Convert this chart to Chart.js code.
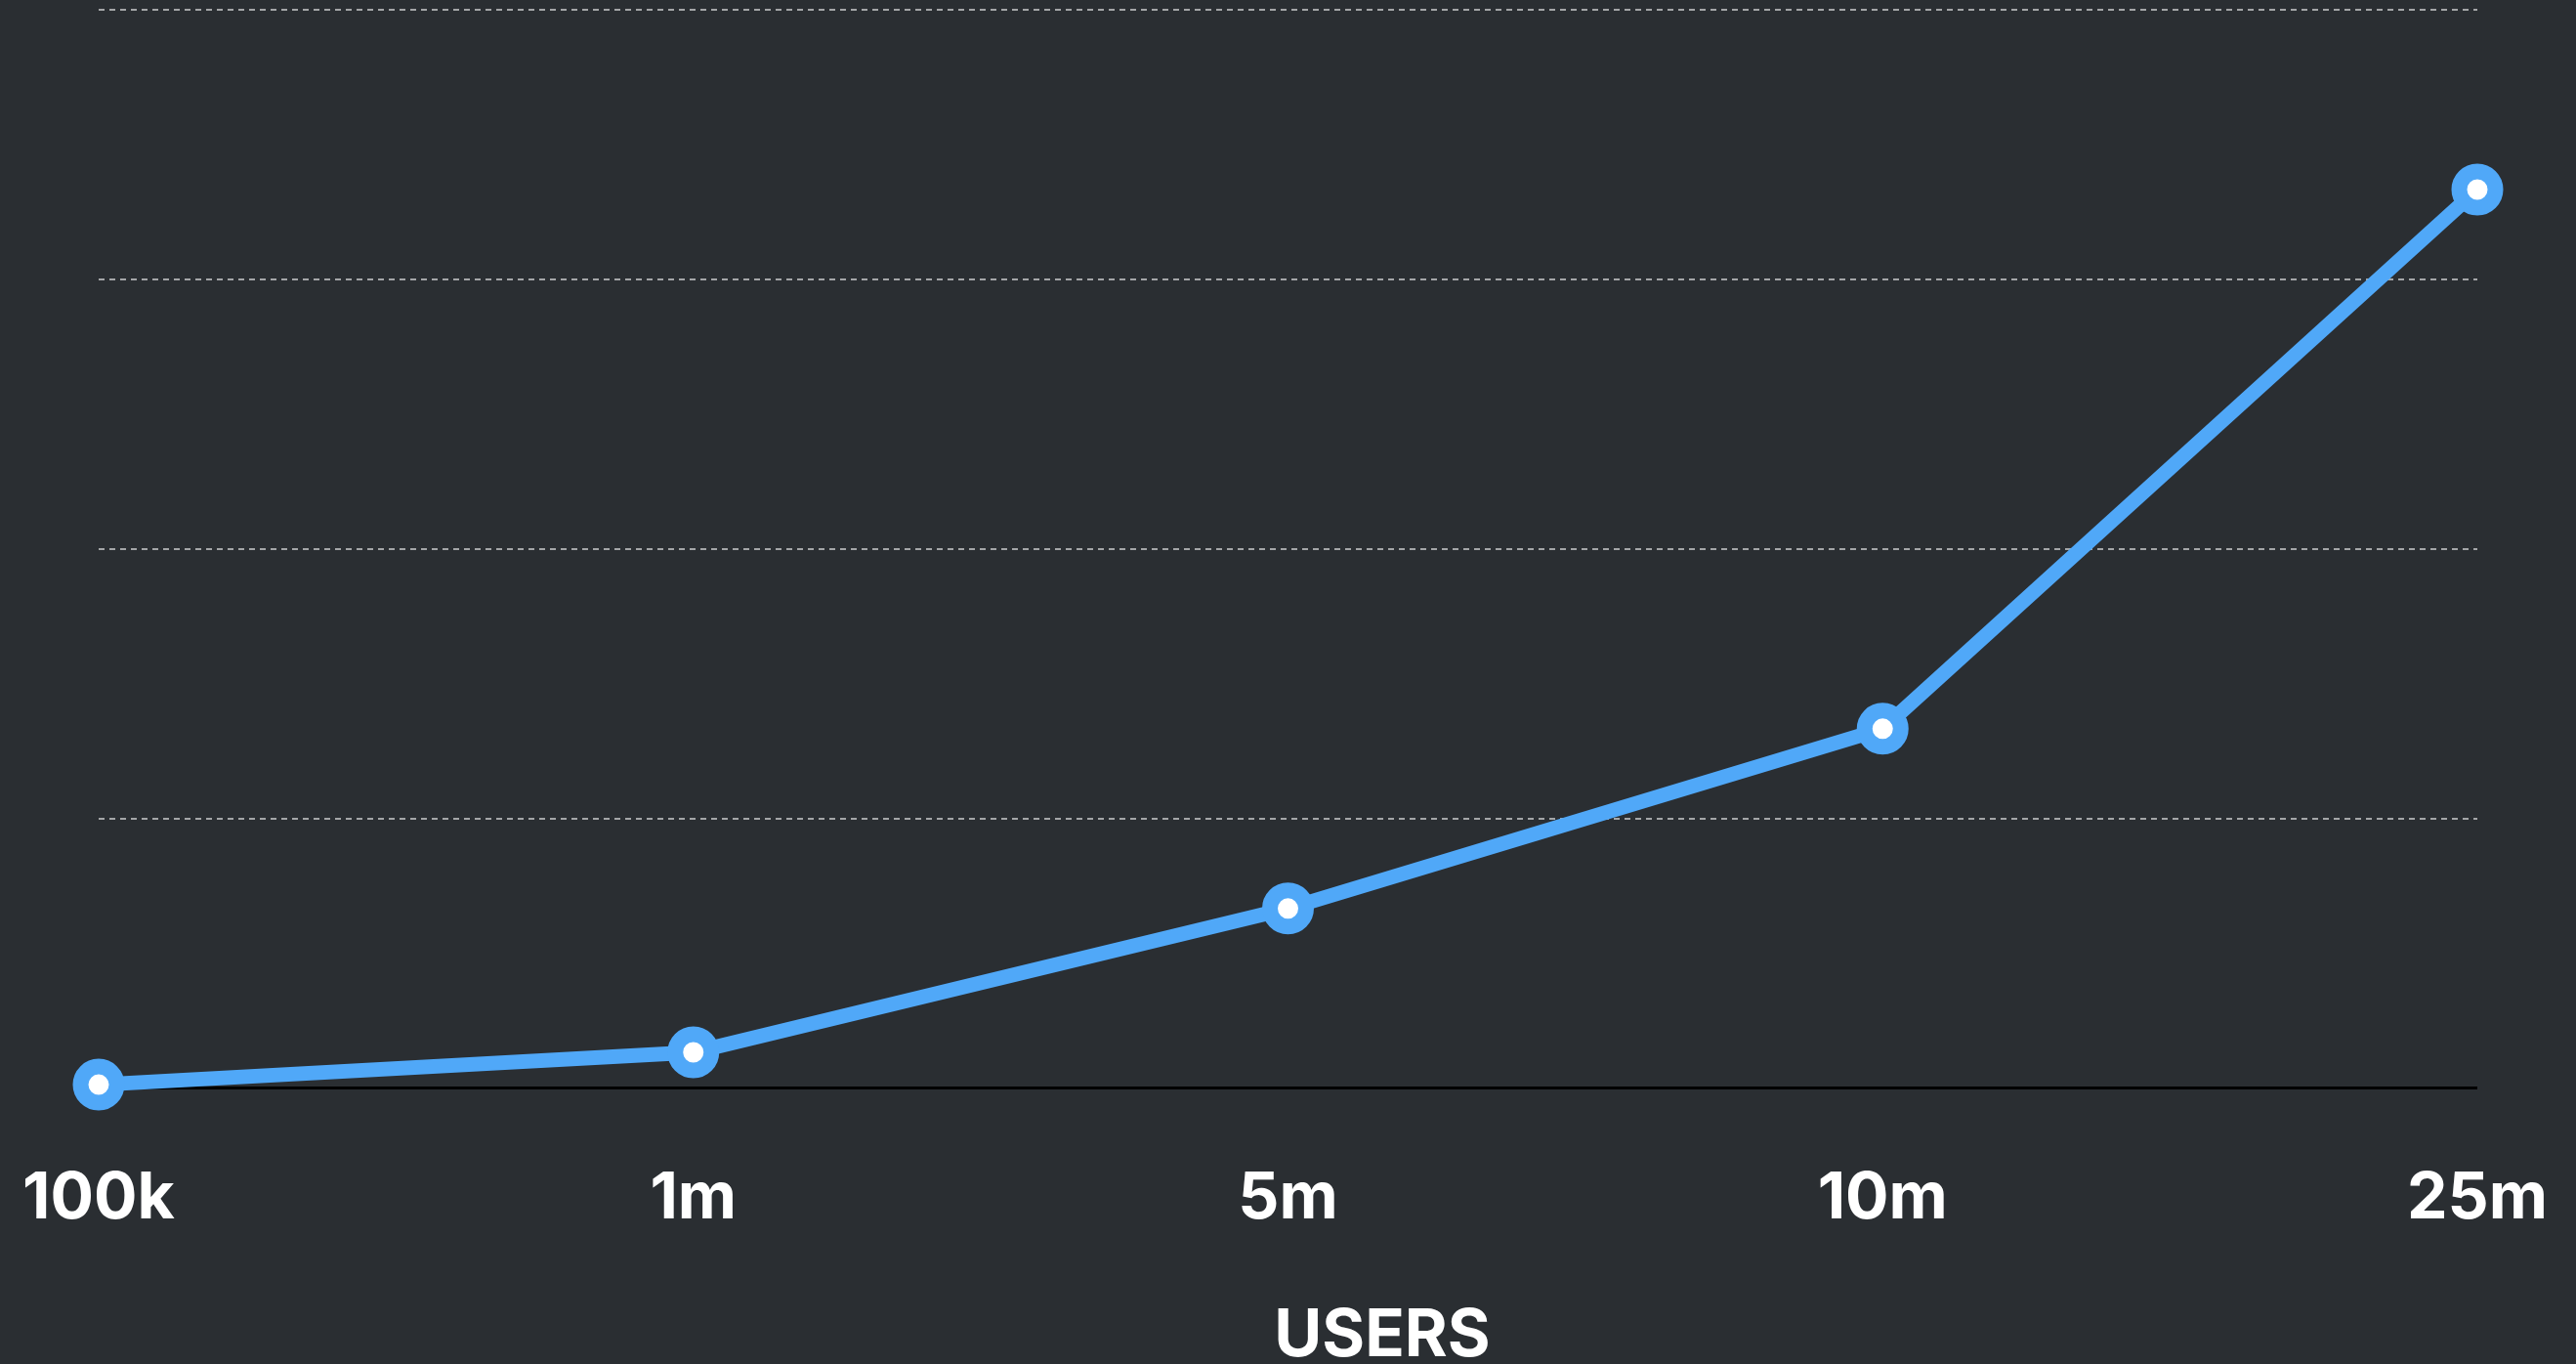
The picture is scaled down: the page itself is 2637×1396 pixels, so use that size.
<!DOCTYPE html>
<html>
<head>
<meta charset="utf-8">
<script src="https://cdn.jsdelivr.net/npm/chart.js@4.4.1/dist/chart.umd.min.js"></script>
<style>
    html, body { margin: 0; padding: 0; background: #2a2e32; }
    #wrap { width: 2637px; height: 1396px; }
</style>
</head>
<body>
<div id="wrap"><canvas id="usersChart"></canvas></div>
<script>
const userLabels = ['100k', '1m', '5m', '10m', '25m'];
const loadValues = [0.2, 2, 10, 20, 50];
const yMax = 60;
const yStep = 15;
const axisCaption = 'USERS';

const lineBlue = '#50a8f8';
const fontFamily = 'Inter, "Open Sans", sans-serif';

// draws the axis caption a little right of centre, as in the source
const captionPlugin = {
    id: 'caption',
    afterDraw(chart) {
        const ctx = chart.ctx;
        ctx.save();
        ctx.fillStyle = '#ffffff';
        ctx.font = '700 67px ' + fontFamily;
        ctx.textAlign = 'center';
        ctx.textBaseline = 'middle';
        ctx.fillText(axisCaption, 1415, 1368);
        ctx.restore();
    }
};

function createChart(ctx) {
    return new Chart(ctx, {
        type: 'line',
        data: {
            labels: userLabels,
            datasets: [{
                data: loadValues,
                borderColor: lineBlue,
                borderWidth: 15,
                pointRadius: 18.5,
                pointHoverRadius: 18.5,
                pointBorderWidth: 16,
                pointBorderColor: lineBlue,
                pointBackgroundColor: '#ffffff',
                tension: 0,
                clip: false
            }]
        },
        options: {
            responsive: true,
            maintainAspectRatio: false,
            animation: false,
            layout: {
                autoPadding: false,
                padding: { left: 101, right: 101, top: 10, bottom: 129 }
            },
            plugins: {
                legend: { display: false },
                title: { display: false },
                tooltip: { enabled: false }
            },
            scales: {
                x: {
                    // hidden tick marks only push the labels down
                    grid: { display: false, drawTicks: true, tickLength: 74 },
                    border: { display: false },
                    ticks: {
                        color: '#ffffff',
                        padding: 0,
                        maxRotation: 0,
                        font: { family: fontFamily, size: 66, weight: '700' }
                    }
                },
                y: {
                    min: 0,
                    max: yMax,
                    ticks: { display: false, stepSize: yStep, padding: 0 },
                    grid: {
                        drawTicks: false,
                        color: c => c.tick.value === 0 ? '#000000' : '#a4a6a8',
                        lineWidth: c => c.tick.value === 0 ? 3 : 2
                    },
                    border: {
                        display: false,
                        dash: c => c.tick.value === 0 ? [] : [6, 5]
                    }
                }
            }
        },
        plugins: [captionPlugin]
    });
}

document.fonts.load('700 66px Inter').then(function () {
    createChart(document.getElementById('usersChart').getContext('2d'));
});
</script>
</body>
</html>
